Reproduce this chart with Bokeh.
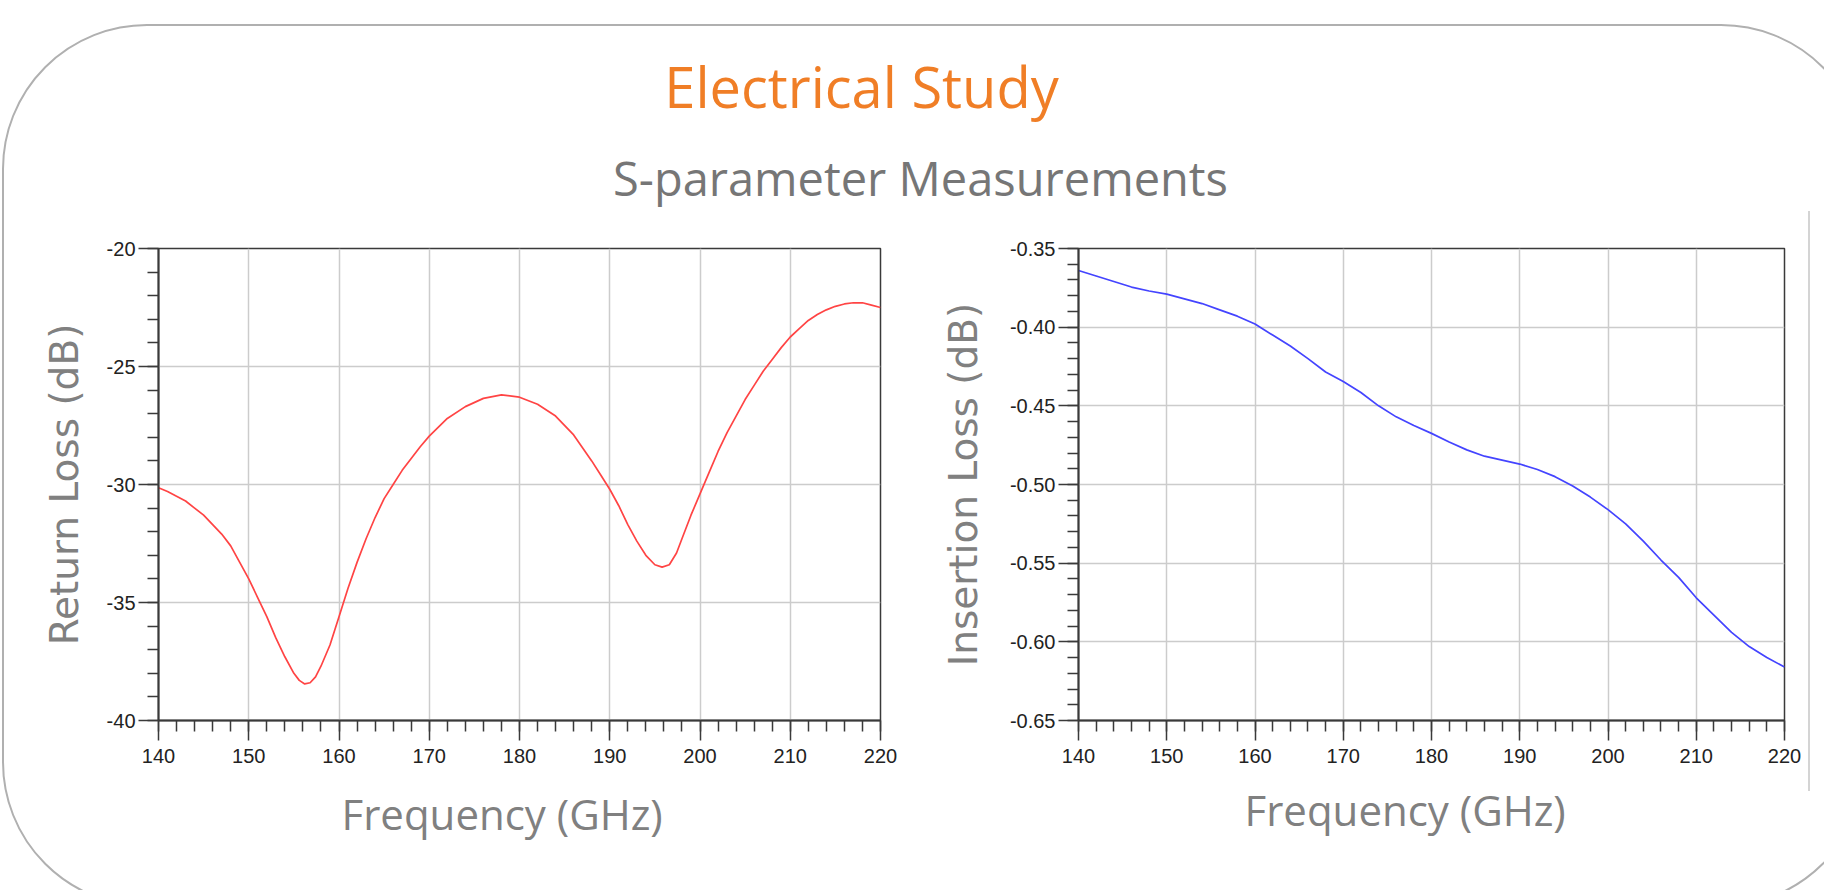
from bokeh.plotting import figure
from bokeh.layouts import column, row
from bokeh.models import (Range1d, FixedTicker, PrintfTickFormatter, Title,
                          InlineStyleSheet)
from bokeh.core.properties import value
from bokeh.embed import file_html
from bokeh.resources import INLINE

# ---------------- data ----------------
freq_rl = [140, 141, 142, 143, 144, 145, 146, 147, 148, 149,
           150, 151, 152, 153, 154, 155, 155.6, 156.2, 156.8, 157.4,
           158, 159, 160, 161, 162, 163, 164, 165, 166, 167,
           168, 169, 170, 172, 174, 176, 178, 180, 182, 184,
           186, 188, 189, 190, 191, 192, 193, 194, 195, 195.8,
           196.6, 197.4, 198, 199, 200, 201, 202, 203, 204, 205,
           206, 207, 208, 209, 210, 211, 212, 213, 214, 215,
           216, 217, 218, 219, 220]
return_loss = [-30.14, -30.3, -30.5, -30.7, -31.0, -31.3, -31.7, -32.1, -32.6, -33.3,
               -34.0, -34.8, -35.6, -36.5, -37.3, -38.0, -38.3, -38.45, -38.4, -38.15,
               -37.7, -36.8, -35.6, -34.4, -33.3, -32.3, -31.4, -30.6, -30.0, -29.4,
               -28.9, -28.4, -27.95, -27.2, -26.7, -26.35, -26.2, -26.3, -26.6, -27.1,
               -27.9, -29.0, -29.6, -30.2, -30.9, -31.7, -32.4, -33.0, -33.4, -33.5,
               -33.4, -32.9, -32.3, -31.3, -30.4, -29.5, -28.6, -27.8, -27.1, -26.4,
               -25.8, -25.2, -24.7, -24.2, -23.75, -23.4, -23.05, -22.8, -22.6, -22.45,
               -22.35, -22.3, -22.3, -22.4, -22.5]

freq_il = [140, 142, 144, 146, 148, 150, 152, 154, 156, 158,
           160, 162, 164, 166, 168, 170, 172, 174, 176, 178,
           180, 182, 184, 186, 188, 190, 192, 194, 196, 198,
           200, 202, 204, 206, 208, 210, 212, 214, 216, 218, 220]
insertion_loss = [-0.364, -0.3675, -0.371, -0.3745, -0.377, -0.379, -0.382, -0.385, -0.389, -0.393,
                  -0.398, -0.405, -0.412, -0.420, -0.4285, -0.4345, -0.4415, -0.450, -0.457, -0.4625,
                  -0.4675, -0.473, -0.478, -0.482, -0.4845, -0.487, -0.4905, -0.495, -0.501, -0.508,
                  -0.516, -0.525, -0.536, -0.548, -0.559, -0.572, -0.583, -0.594, -0.603, -0.610, -0.616]

x_major = [140, 150, 160, 170, 180, 190, 200, 210, 220]
x_minor = list(range(140, 221, 2))
rl_major = [-40, -35, -30, -25, -20]
rl_minor = list(range(-40, -19))
il_major = [-0.65, -0.60, -0.55, -0.50, -0.45, -0.40, -0.35]
il_minor = [round(-0.65 + 0.01 * i, 2) for i in range(31)]

title_text = "Electrical Study"
subtitle_text = "S-parameter Measurements"
x_label = "Frequency (GHz)"

# ---------------- styling helpers ----------------
AX = "#3a3a3a"
GRID = "#cccccc"
LABEL_GRAY = "#808080"


def style(p, ymajor, yminor, ylabel, ylabel_standoff, xoffset, xstandoff, yfmt):
    p.xaxis.ticker = FixedTicker(ticks=x_major, minor_ticks=x_minor)
    p.yaxis.ticker = FixedTicker(ticks=ymajor, minor_ticks=yminor)
    p.yaxis.formatter = PrintfTickFormatter(format=yfmt)
    p.xaxis.formatter = PrintfTickFormatter(format="%d")
    for ax in (p.xaxis[0], p.yaxis[0]):
        ax.axis_line_color = AX
        ax.axis_line_width = 2
        ax.major_tick_line_color = AX
        ax.major_tick_line_width = 1.5
        ax.minor_tick_line_color = AX
        ax.minor_tick_line_width = 1.5
        ax.major_tick_in = 0
        ax.major_tick_out = 20
        ax.minor_tick_in = 0
        ax.minor_tick_out = 11
        ax.major_label_text_font = "Liberation Sans"
        ax.major_label_text_font_size = "20px"
        ax.major_label_text_color = "#222222"
    p.xaxis.major_label_standoff = 8
    p.yaxis.major_label_standoff = 3
    p.yaxis.axis_label = ylabel
    p.yaxis.axis_label_text_font = "DejaVu Sans"
    p.yaxis.axis_label_text_font_size = "39px"
    p.yaxis.axis_label_text_font_style = "normal"
    p.yaxis.axis_label_text_color = LABEL_GRAY
    p.yaxis.axis_label_standoff = ylabel_standoff
    p.xgrid.grid_line_color = GRID
    p.ygrid.grid_line_color = GRID
    p.xgrid.grid_line_width = 1.5
    p.ygrid.grid_line_width = 1.5
    p.outline_line_color = AX
    p.outline_line_width = 1.5
    p.background_fill_alpha = 0
    p.border_fill_alpha = 0
    t = Title(text=x_label, align="left", offset=xoffset,
              text_font="Open Sans", text_font_size="42px",
              text_font_style="normal", text_color=LABEL_GRAY, standoff=xstandoff)
    p.add_layout(t, "below")


# ---------------- header ----------------
HEADER_H = 215
header = figure(width=1824, height=HEADER_H, x_range=Range1d(0, 1824), y_range=Range1d(0, HEADER_H),
                toolbar_location=None, output_backend="svg", min_border=0)
header.axis.visible = False
header.grid.visible = False
header.outline_line_color = None
header.background_fill_alpha = 0
header.border_fill_alpha = 0
header.text(x=[861], y=[130], text=[title_text], text_font=value("Open Sans"),
            text_font_size="56px", text_color="#F07E26", text_align="center",
            text_baseline="alphabetic")
header.text(x=[920], y=[38], text=[subtitle_text], text_font=value("Open Sans"),
            text_font_size="47px", text_color="#767676", text_align="center",
            text_baseline="alphabetic")

# ---------------- return loss ----------------
p1 = figure(width=920, height=675, x_range=Range1d(140, 220), y_range=Range1d(-40, -20),
            toolbar_location=None, output_backend="svg",
            min_border_left=158, min_border_right=40, min_border_top=33, min_border_bottom=167)
p1.line(freq_rl, return_loss, line_color="#FF4444", line_width=1.7)
style(p1, rl_major, rl_minor, "Return Loss (dB)", 17, 183, 34, "%d")

# ---------------- insertion loss ----------------
p2 = figure(width=904, height=675, x_range=Range1d(140, 220), y_range=Range1d(-0.65, -0.35),
            toolbar_location=None, output_backend="svg",
            min_border_left=158, min_border_right=40, min_border_top=28, min_border_bottom=170)
p2.line(freq_il, insertion_loss, line_color="#4444FF", line_width=1.7)
style(p2, il_major, il_minor, "Insertion Loss (dB)", 21, 166, 27, "%.2f")

css = InlineStyleSheet(css="""
:host { position: relative; overflow: hidden; }
:host::before { content: ""; position: absolute; left: 2px; top: 24px; right: -42px; bottom: -17px;
  width: auto; height: auto; max-width: none; max-height: none;
  border: 2px solid #b0b0b0; border-radius: 145px; box-sizing: border-box;
  pointer-events: none; z-index: 5; }
:host::after { content: ""; position: absolute; left: 1808px; top: 211px; width: 0px; height: 580px;
  border-left: 2px solid #d4d4d4; pointer-events: none; z-index: 5; }
""")

layout = column(header, row(p1, p2), width=1824, height=890, stylesheets=[css])

open("out.html", "w").write(file_html(layout, INLINE))
